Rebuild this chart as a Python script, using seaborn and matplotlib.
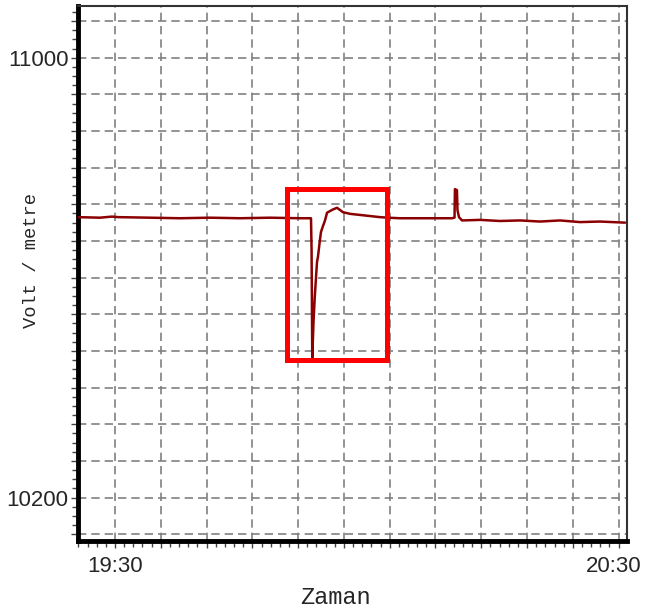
import numpy as np
import pandas as pd
import seaborn as sns
import matplotlib.pyplot as plt
import matplotlib.transforms as mtransforms
from matplotlib.patches import Rectangle
from matplotlib.ticker import AutoMinorLocator

# minutes after 19:30 and field strength (V/m)
minutes = [-4.41, -1.79, -0.36, 0.36, 4.17, 7.74, 11.32, 14.89, 18.47, 22.04,
           23.35, 23.42, 23.50, 23.65, 23.80, 23.95, 24.07, 24.18, 24.42, 24.54,
           24.78, 25.02, 25.26, 25.61, 25.97, 26.45, 26.81, 27.16, 28.00, 29.19,
           30.38, 31.57, 32.52, 33.95, 36.34, 38.72, 40.15, 40.45, 40.50, 40.74,
           40.80, 40.98, 41.34, 43.48, 45.86, 48.25, 50.63, 53.01, 55.39, 57.78,
           60.76]
volts = [10710, 10709, 10711, 10710, 10709, 10708, 10709, 10708, 10709, 10708,
         10708, 10650, 10454, 10520, 10565, 10601, 10629, 10638, 10669, 10683,
         10694, 10704, 10718, 10721, 10724, 10727, 10723, 10719, 10716, 10714,
         10712, 10710, 10709, 10708, 10708, 10708, 10708, 10709, 10761, 10759,
         10723, 10710, 10704, 10705, 10703, 10704, 10702, 10704, 10701, 10702,
         10700]

# highlighted event box
box_start, box_end = 20.45, 32.37
box_low, box_high = 10450, 10762

x_ticklabels = ["19:30", "20:30"]
y_ticklabels = ["10200", "11000"]

df = pd.DataFrame({"Zaman": minutes, "Volt": volts})

sns.set_style("white")
plt.rcParams["font.family"] = ["Liberation Sans", "DejaVu Sans"]

fig = plt.figure(figsize=(6.45, 6.09), dpi=100)
ax = fig.add_axes([78 / 645, 1 - 541 / 609, 549 / 645, 535 / 609])

x_step = 60 / 11
y_step = 800 / 12
ax.set_xlim(-4.41, 61.0)
ax.set_ylim(10121, 11094)

# dashed grid
for k in range(12):
    ax.axvline(k * x_step, color="#808080", ls=(0, (5, 3)), lw=1.2, zorder=1)
for k in range(-1, 14):
    ax.axhline(10200 + k * y_step, color="#808080", ls=(0, (5, 3)), lw=1.2, zorder=1)

sns.lineplot(data=df, x="Zaman", y="Volt", ax=ax, color="#8b0000", lw=1.8,
             estimator=None, sort=False, zorder=3)

ax.add_patch(Rectangle((box_start, box_low), box_end - box_start, box_high - box_low,
                       fill=False, edgecolor="#ff0000", lw=3.6, zorder=4))

xt = [k * x_step for k in range(12)]
ax.set_xticks(xt)
ax.set_xticklabels([x_ticklabels[0]] + [""] * 10 + [x_ticklabels[1]])
yt = [10200 + k * y_step for k in range(-1, 14)]
ax.set_yticks(yt)
ylabs = [""] * len(yt)
ylabs[1] = y_ticklabels[0]
ylabs[13] = y_ticklabels[1]
ax.set_yticklabels(ylabs)
ax.xaxis.set_minor_locator(AutoMinorLocator(5))
ax.yaxis.set_minor_locator(AutoMinorLocator(4))

ax.tick_params(axis="both", which="both", direction="out", length=4, width=1,
               color="#444444", labelsize=16, pad=2)
ax.tick_params(axis="x", pad=6)
ax.tick_params(axis="both", which="major", length=5)
ax.tick_params(left=True, bottom=True, which="both")

# nudge the right-hand time label inside the canvas
last = ax.get_xticklabels()[-1]
last.set_transform(last.get_transform() +
                   mtransforms.ScaledTranslation(-5 / 100, 0, fig.dpi_scale_trans))

for side in ["left", "bottom"]:
    ax.spines[side].set_linewidth(3.5)
    ax.spines[side].set_color("black")
for side in ["top", "right"]:
    ax.spines[side].set_linewidth(1.5)
    ax.spines[side].set_color("#333333")

ax.set_xlabel("")
ax.set_ylabel("")
fig.text(335 / 645, 1 - 597 / 609, "Zaman", ha="center", va="center",
         fontsize=17, family="Liberation Mono")
fig.text(31 / 645, 1 - 261 / 609, "Volt / metre", ha="center", va="center",
         rotation=90, fontsize=13.5, family="Liberation Mono")

fig.savefig("out.png", dpi=100)
